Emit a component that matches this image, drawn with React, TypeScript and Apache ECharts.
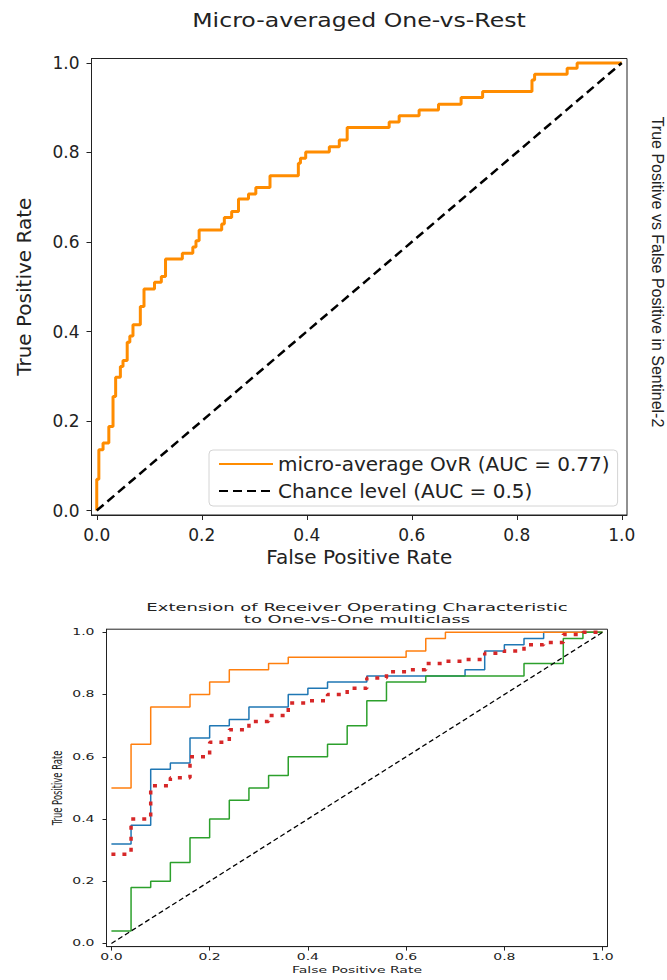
import React, { useEffect, useRef } from "react";
import * as echarts from "echarts";

// ---------- data ----------
const TICKS = [0, 0.2, 0.4, 0.6, 0.8, 1.0];

const TOP_TITLE = "Micro-averaged One-vs-Rest";
const BOTTOM_TITLE = "Extension of Receiver Operating Characteristic\nto One-vs-One multiclass";
const SIDE_TEXT = "True Positive vs False Positive in Sentinel-2";
const MICRO_NAME = "micro-average OvR (AUC = 0.77)";
const CHANCE_NAME = "Chance level (AUC = 0.5)";

// top: micro-averaged OvR ROC (step points: at fpr, tpr jumps to value)
const MICRO_FPR = [0, 0, 0.004, 0.012, 0.023, 0.031, 0.036, 0.045, 0.05, 0.058, 0.063, 0.069, 0.083, 0.09, 0.11, 0.123, 0.131, 0.163, 0.183, 0.189, 0.195, 0.238, 0.243, 0.257, 0.27, 0.289, 0.303, 0.33, 0.384, 0.388, 0.398, 0.443, 0.462, 0.477, 0.557, 0.576, 0.614, 0.651, 0.694, 0.735, 0.829, 0.834, 0.896, 0.915, 1.0];
const MICRO_TPR = [0, 0.07, 0.136, 0.151, 0.188, 0.255, 0.298, 0.322, 0.335, 0.376, 0.39, 0.415, 0.456, 0.495, 0.51, 0.523, 0.562, 0.575, 0.589, 0.603, 0.627, 0.64, 0.655, 0.668, 0.696, 0.707, 0.722, 0.748, 0.776, 0.787, 0.801, 0.813, 0.828, 0.856, 0.868, 0.882, 0.895, 0.908, 0.923, 0.936, 0.962, 0.975, 0.988, 1.0, 1.0];

const CHANCE_FPR = [0, 1];
const CHANCE_TPR = [0, 1];

// bottom: One-vs-One pairs
const ORANGE_FPR = [0, 0.04, 0.08, 0.16, 0.2, 0.24, 0.32, 0.36, 0.6, 0.64, 0.68, 1.0];
const ORANGE_TPR = [0.5, 0.64, 0.76, 0.8, 0.84, 0.88, 0.9, 0.92, 0.94, 0.98, 1.0, 1.0];

const BLUE_FPR = [0, 0.04, 0.08, 0.12, 0.16, 0.2, 0.24, 0.28, 0.36, 0.4, 0.44, 0.52, 0.72, 0.76, 0.8, 0.84, 0.88, 1.0];
const BLUE_TPR = [0.32, 0.38, 0.56, 0.58, 0.66, 0.7, 0.72, 0.76, 0.8, 0.82, 0.84, 0.86, 0.88, 0.94, 0.96, 0.98, 1.0, 1.0];

const GREEN_FPR = [0, 0.04, 0.08, 0.12, 0.16, 0.2, 0.24, 0.28, 0.32, 0.36, 0.44, 0.48, 0.52, 0.56, 0.64, 0.84, 0.92, 0.96, 1.0];
const GREEN_TPR = [0.04, 0.18, 0.2, 0.26, 0.34, 0.4, 0.46, 0.5, 0.54, 0.6, 0.64, 0.7, 0.78, 0.84, 0.86, 0.9, 0.98, 1.0, 1.0];

const MACRO_FPR = [0, 0.04, 0.08, 0.12, 0.16, 0.2, 0.24, 0.28, 0.32, 0.36, 0.4, 0.44, 0.48, 0.52, 0.56, 0.6, 0.64, 0.68, 0.72, 0.76, 0.8, 0.84, 0.88, 0.92, 0.96, 1.0];
const MACRO_TPR = [0.287, 0.4, 0.507, 0.533, 0.6, 0.647, 0.687, 0.713, 0.733, 0.773, 0.78, 0.8, 0.82, 0.853, 0.873, 0.88, 0.9, 0.907, 0.913, 0.933, 0.94, 0.96, 0.967, 0.993, 1.0, 1.0];

const zip = (xs: number[], ys: number[]) => xs.map((x, i) => [x, ys[i]]);

const FONT = "DejaVu Sans";
const INK = "#222";

export default function App() {
  const ref = useRef<HTMLDivElement>(null);

  useEffect(() => {
    const chart = echarts.init(ref.current!, null, { renderer: "svg" });

    const valueAxisBase = {
      type: "value",
      min: -0.01,
      max: 1.01,
      splitLine: { show: false },
      axisLine: { show: true, onZero: false, lineStyle: { color: INK, width: 1 } },
    };

    const option: any = {
      animation: false,
      backgroundColor: "#fff",
      grid: [
        { left: 91.5, top: 58.5, width: 535.5, height: 456.5, show: true, borderColor: INK, borderWidth: 1, backgroundColor: "transparent" },
        { left: 106.5, top: 629.2, width: 501, height: 317.4, show: true, borderColor: INK, borderWidth: 1, backgroundColor: "transparent" },
      ],
      xAxis: [
        {
          ...valueAxisBase,
          gridIndex: 0,
          name: "False Positive Rate",
          nameLocation: "middle",
          nameGap: 32,
          nameTextStyle: { fontSize: 20, fontFamily: FONT, color: INK },
          axisTick: { show: true, customValues: TICKS, length: 5, lineStyle: { color: INK } },
          axisLabel: { show: true, customValues: TICKS, formatter: (v: number) => v.toFixed(1), fontSize: 17, fontFamily: FONT, color: INK, margin: 11 },
        },
        {
          ...valueAxisBase,
          gridIndex: 1,
          axisTick: { show: true, customValues: TICKS, length: 4, lineStyle: { color: INK } },
          axisLabel: { show: false },
        },
      ],
      yAxis: [
        {
          ...valueAxisBase,
          gridIndex: 0,
          name: "True Positive Rate",
          nameLocation: "middle",
          nameGap: 58,
          nameTextStyle: { fontSize: 20, fontFamily: FONT, color: INK },
          axisTick: { show: true, customValues: TICKS, length: 5, lineStyle: { color: INK } },
          axisLabel: { show: true, customValues: TICKS, formatter: (v: number) => v.toFixed(1), fontSize: 17, fontFamily: FONT, color: INK, margin: 12 },
        },
        {
          ...valueAxisBase,
          gridIndex: 1,
          axisTick: { show: true, customValues: TICKS, length: 4, lineStyle: { color: INK } },
          axisLabel: { show: false },
        },
      ],
      legend: {
        show: true,
        selectedMode: false,
        data: [MICRO_NAME, CHANCE_NAME],
        orient: "vertical",
        left: 209,
        top: 450,
        itemWidth: 54,
        itemHeight: 14,
        itemGap: 7,
        padding: [4, 8, 5, 9],
        itemStyle: { opacity: 0 },
        backgroundColor: "rgba(255,255,255,0.85)",
        borderColor: "#d4d4d4",
        borderWidth: 1,
        borderRadius: 4,
        textStyle: { fontSize: 20, fontFamily: FONT, color: INK, lineHeight: 20 },
      },
      series: [
        {
          name: MICRO_NAME,
          type: "line",
          xAxisIndex: 0,
          yAxisIndex: 0,
          step: "end",
          symbol: "none",
          data: zip(MICRO_FPR, MICRO_TPR),
          lineStyle: { color: "#ff8c00", width: 3 },
          itemStyle: { color: "#ff8c00" },
        },
        {
          name: CHANCE_NAME,
          type: "line",
          xAxisIndex: 0,
          yAxisIndex: 0,
          symbol: "none",
          data: zip(CHANCE_FPR, CHANCE_TPR),
          lineStyle: { color: "#000", width: 2.5, type: [9, 5] },
          itemStyle: { color: "#000" },
        },
        {
          name: "pair A",
          type: "line",
          xAxisIndex: 1,
          yAxisIndex: 1,
          step: "end",
          symbol: "none",
          data: zip(BLUE_FPR, BLUE_TPR),
          lineStyle: { color: "#1f77b4", width: 1.5 },
          itemStyle: { color: "#1f77b4" },
        },
        {
          name: "pair B",
          type: "line",
          xAxisIndex: 1,
          yAxisIndex: 1,
          step: "end",
          symbol: "none",
          data: zip(ORANGE_FPR, ORANGE_TPR),
          lineStyle: { color: "#ff7f0e", width: 1.5 },
          itemStyle: { color: "#ff7f0e" },
        },
        {
          name: "pair C",
          type: "line",
          xAxisIndex: 1,
          yAxisIndex: 1,
          step: "end",
          symbol: "none",
          data: zip(GREEN_FPR, GREEN_TPR),
          lineStyle: { color: "#2ca02c", width: 1.5 },
          itemStyle: { color: "#2ca02c" },
        },
        {
          name: "macro average",
          type: "line",
          xAxisIndex: 1,
          yAxisIndex: 1,
          step: "end",
          symbol: "none",
          data: zip(MACRO_FPR, MACRO_TPR),
          lineStyle: { color: "#d62728", width: 3.5, type: [4, 7], cap: "butt" },
          itemStyle: { color: "#d62728" },
        },
        {
          name: "chance OvO",
          type: "line",
          xAxisIndex: 1,
          yAxisIndex: 1,
          symbol: "none",
          data: zip(CHANCE_FPR, CHANCE_TPR),
          lineStyle: { color: "#000", width: 1.3, type: [5, 3] },
          itemStyle: { color: "#000" },
        },
      ],
    };

    chart.setOption(option);

    const elements: any[] = [
      {
        type: "text",
        x: 359,
        y: 20,
        scaleX: 1.18,
        style: { text: TOP_TITLE, fontSize: 20, fontFamily: FONT, fill: INK, align: "center", verticalAlign: "middle", textAlign: "center", textVerticalAlign: "middle" },
      },
      {
        type: "text",
        x: 657,
        y: 272,
        rotation: -Math.PI / 2,
        style: { text: SIDE_TEXT, fontSize: 16, fontFamily: "Liberation Sans", fill: INK, align: "center", verticalAlign: "middle", textAlign: "center", textVerticalAlign: "middle" },
      },
      {
        type: "text",
        x: 357,
        y: 613,
        scaleY: 0.6,
        style: { text: BOTTOM_TITLE, fontSize: 18, lineHeight: 21, fontFamily: FONT, fill: INK, align: "center", verticalAlign: "middle", textAlign: "center", textVerticalAlign: "middle" },
      },
      {
        type: "text",
        x: 357,
        y: 970,
        scaleY: 0.6,
        style: { text: "False Positive Rate", fontSize: 14, fontFamily: FONT, fill: INK, align: "center", verticalAlign: "middle", textAlign: "center", textVerticalAlign: "middle" },
      },
      {
        type: "text",
        x: 57,
        y: 788,
        rotation: Math.PI / 2,
        scaleX: 0.6,
        style: { text: "True Positive Rate", fontSize: 14, fontFamily: FONT, fill: INK, align: "center", verticalAlign: "middle", textAlign: "center", textVerticalAlign: "middle" },
      },
    ];

    // bottom tick labels placed through the axis scales
    TICKS.forEach((v) => {
      const px = chart.convertToPixel({ gridIndex: 1 } as any, [v, -0.01]) as number[];
      const py = chart.convertToPixel({ gridIndex: 1 } as any, [-0.01, v]) as number[];
      elements.push({
        type: "text",
        x: px[0],
        y: px[1] + 10.5,
        scaleY: 0.6,
        style: { text: v.toFixed(1), fontSize: 14, fontFamily: FONT, fill: INK, align: "center", verticalAlign: "middle", textAlign: "center", textVerticalAlign: "middle" },
      });
      elements.push({
        type: "text",
        x: py[0] - 12,
        y: py[1],
        scaleY: 0.6,
        style: { text: v.toFixed(1), fontSize: 14, fontFamily: FONT, fill: INK, align: "right", verticalAlign: "middle", textAlign: "right", textVerticalAlign: "middle" },
      });
    });

    chart.setOption({ graphic: { elements } });

    return () => chart.dispose();
  }, []);

  return <div ref={ref} style={{ position: "absolute", left: 0, top: 0, width: 667, height: 980 }} />;
}
